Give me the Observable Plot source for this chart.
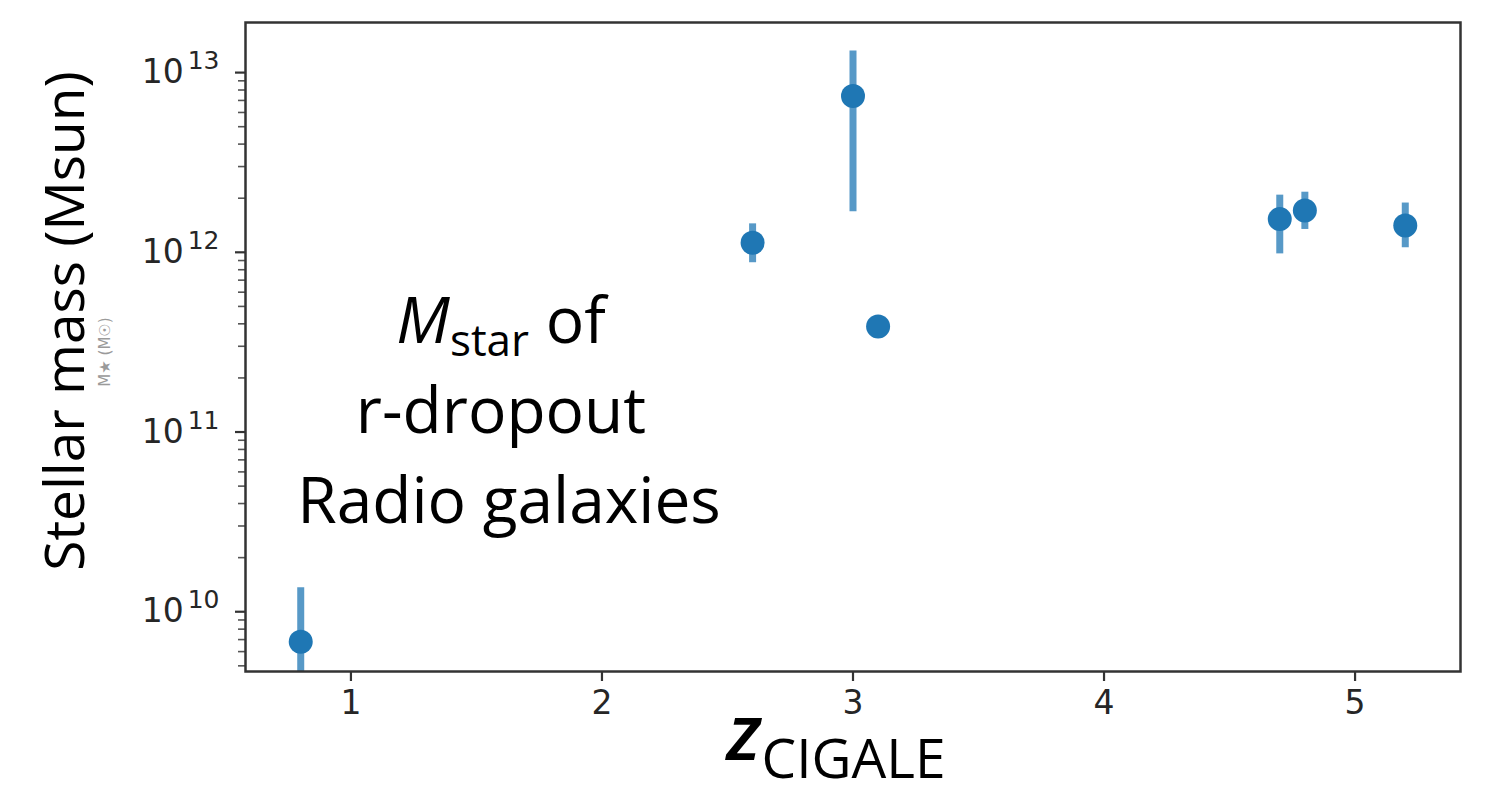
<!DOCTYPE html>
<html>
<head>
<meta charset="utf-8">
<script src="https://cdn.jsdelivr.net/npm/d3@7"></script>
<script src="https://cdn.jsdelivr.net/npm/@observablehq/plot@0.6"></script>
<style>
  html, body { margin: 0; padding: 0; background: #fff; }
  svg text { font-kerning: normal; }
</style>
</head>
<body>
<div id="chart"></div>
<script>
// CIGALE redshift and stellar mass of the r-dropout radio galaxies
const zCigale  = [0.8, 2.6, 3.0, 3.1, 4.7, 4.8, 5.2];
const mStar    = [6.8e9, 1.13e12, 7.4e12, 3.87e11, 1.53e12, 1.71e12, 1.41e12];
const mStarLo  = [1.0e9, 8.75e11, 1.68e12, 3.87e11, 0.98e12, 1.34e12, 1.06e12];
const mStarHi  = [1.36e10, 1.44e12, 1.32e13, 3.87e11, 2.08e12, 2.16e12, 1.88e12];

// axis ticks
const xTicks     = [1, 2, 3, 4, 5];
const yMajor     = [1e10, 1e11, 1e12, 1e13];
const yMinorMult = [2, 3, 4, 5, 6, 7, 8, 9];
const yDomain    = [4.65e9, 1.9e13];
const xDomain    = [0.58, 5.42];

const rows = zCigale.map((z, i) => ({z, m: mStar[i], lo: mStarLo[i], hi: mStarHi[i]}));
const yMinor = [1e9, ...yMajor]
  .flatMap(d => yMinorMult.map(k => k * d))
  .filter(v => v >= yDomain[0] && v <= yDomain[1]);

const blue = "#1f77b4";
const tickFont = "'DejaVu Sans', sans-serif";

const svg = Plot.plot({
  width: 1511,
  height: 793,
  marginLeft: 245,
  marginRight: 51,
  marginTop: 22,
  marginBottom: 122,
  x: {domain: xDomain},
  y: {type: "log", domain: yDomain},
  style: {fontFamily: tickFont, fontSize: "30px", color: "#262626", background: "#fff"},
  marks: [
    Plot.ruleX(rows, {x: "z", y1: "lo", y2: "hi", stroke: blue, strokeOpacity: 0.75, strokeWidth: 7, clip: true}),
    Plot.dot(rows, {x: "z", y: "m", r: 12, fill: blue, stroke: "none"}),
    Plot.axisX({ticks: xTicks, tickSize: 10, tickPadding: 9, label: null, stroke: "#333", strokeWidth: 2.2,
      tickFormat: d => String(d)}),
    Plot.axisY({ticks: yMinor, tickSize: 7, tickFormat: () => "", label: null, stroke: "#555", strokeWidth: 1.6}),
    Plot.axisY({ticks: yMajor, tickSize: 10, tickPadding: 16, label: null, stroke: "#333", strokeWidth: 2.2,
      tickFormat: d => `10^${Math.round(Math.log10(d))}`}),
    Plot.frame({stroke: "#333", strokeWidth: 2.5})
  ]
});

const root = d3.select(svg);

// tick label size, set on every label
root.selectAll('g[aria-label="x-axis tick label"] text, g[aria-label="y-axis tick label"] text')
  .style("font-size", "33px").style("font-family", tickFont);

// power-of-ten tick labels with raised exponents
root.selectAll('g[aria-label="y-axis tick label"] text').each(function () {
  const t = d3.select(this);
  const [base, exp] = t.text().split("^");
  t.text(null);
  t.append("tspan").text(base);
  t.append("tspan").style("font-size", "25px").attr("dx", "4").attr("dy", "-14").text(exp);
});

const sans = "'Open Sans', sans-serif";

// y-axis title
root.append("text")
  .attr("transform", "translate(84,321) rotate(-90)")
  .attr("text-anchor", "middle")
  .attr("font-family", sans)
  .attr("font-size", 55)
  .attr("fill", "#000")
  .text("Stellar mass (Msun)");

// faint residual axis caption beside the tick labels
root.append("text")
  .attr("transform", "translate(110,352) rotate(-90)")
  .attr("text-anchor", "middle")
  .attr("font-family", tickFont)
  .style("font-size", "15px")
  .attr("fill", "#9a9a9a")
  .text("M\u2605 (M\u2609)");

// x-axis title: z_CIGALE
const xl = root.append("text")
  .attr("x", 836)
  .attr("y", 760)
  .attr("text-anchor", "middle")
  .attr("font-family", sans)
  .attr("fill", "#000");
xl.append("tspan").attr("font-size", 78).attr("font-style", "italic").attr("font-weight", 600).text("z");
xl.append("tspan").attr("font-size", 55).attr("dy", 18).text("CIGALE");

// annotation
const ann = root.append("g")
  .attr("font-family", sans)
  .attr("fill", "#000")
  .attr("text-anchor", "middle");
const l1 = ann.append("text").attr("x", 501).attr("y", 343).attr("font-size", 64);
l1.append("tspan").attr("font-style", "italic").text("M");
l1.append("tspan").attr("font-size", 44).attr("dy", 13).text("star");
l1.append("tspan").attr("dy", -13).text(" of");
ann.append("text").attr("x", 501).attr("y", 433).attr("font-size", 64).text("r-dropout");
ann.append("text").attr("x", 509).attr("y", 523).attr("font-size", 64).text("Radio galaxies");

document.getElementById("chart").appendChild(svg);
</script>
</body>
</html>
